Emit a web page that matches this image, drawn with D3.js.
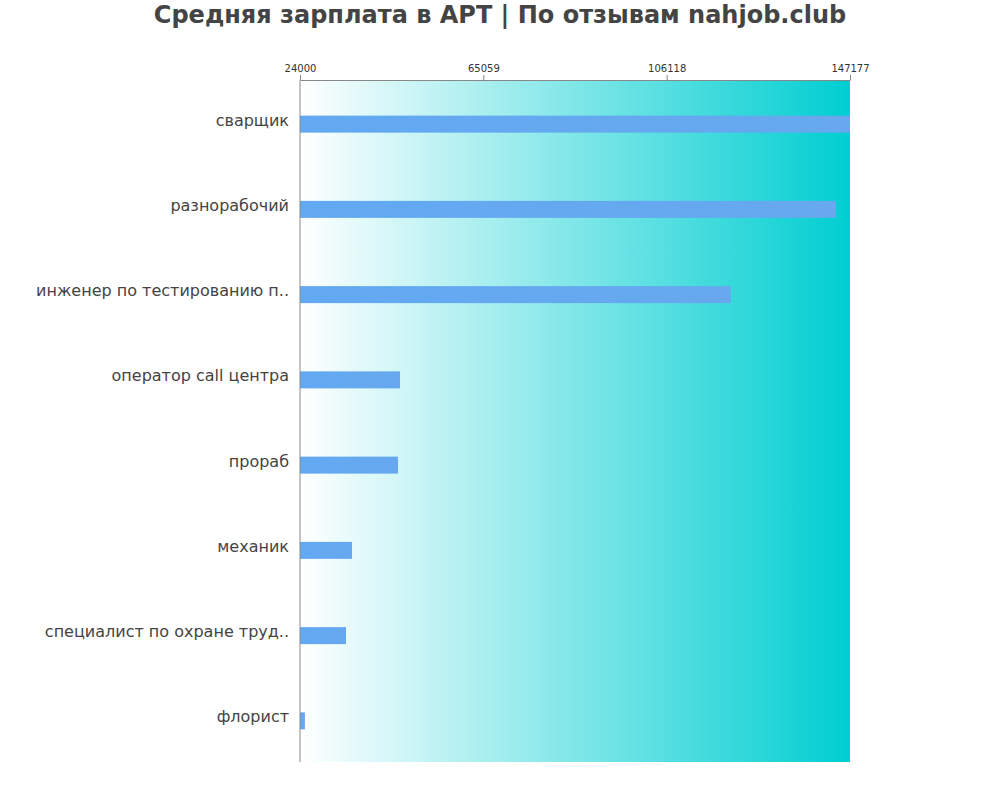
<!DOCTYPE html>
<html>
<head>
<meta charset="utf-8">
<script src="https://cdn.jsdelivr.net/npm/d3@7"></script>
<style>
  body { margin: 0; background: #fff; }
  text { font-family: "DejaVu Sans", sans-serif; }
</style>
</head>
<body>
<svg id="chart" width="1000" height="800"></svg>
<script>
// Chart data
const categories = ['сварщик', 'разнорабочий', 'инженер по тестированию п..', 'оператор call центра',
  'прораб', 'механик', 'специалист по охране труд..', 'флорист'];
const salaries = [147177, 144000, 120500, 46400, 45950, 35650, 34300, 25100];
const tickValues = [24000, 65059, 106118, 147177];

const svg = d3.select('#chart');
const margin = { left: 300, right: 150, top: 80, bottom: 38 };
const width = 1000 - margin.left - margin.right;
const height = 800 - margin.top - margin.bottom;

// Title
svg.append('text')
  .attr('x', 500).attr('y', 23)
  .attr('text-anchor', 'middle')
  .attr('font-size', 24).attr('font-weight', 'bold')
  .attr('fill', '#444')
  .text('Средняя зарплата в АРТ | По отзывам nahjob.club');

const defs = svg.append('defs');
const bg = defs.append('linearGradient').attr('id', 'bg');
bg.append('stop').attr('offset', '0%').attr('stop-color', '#ffffff');
bg.append('stop').attr('offset', '100%').attr('stop-color', '#00ced1');
const barGrad = defs.append('linearGradient').attr('id', 'barGrad');
barGrad.append('stop').attr('offset', '0%').attr('stop-color', '#62a9f2');
barGrad.append('stop').attr('offset', '100%').attr('stop-color', '#67a8ee');

const g = svg.append('g').attr('transform', `translate(${margin.left},${margin.top})`);

const x = d3.scaleLinear().domain([24000, 147177]).range([0, width]);
const y = d3.scaleBand().domain(categories).range([0, height]);

g.append('rect').attr('width', width).attr('height', height).attr('fill', 'url(#bg)');

// Bars
g.selectAll('.bar')
  .data(categories)
  .join('rect')
  .attr('class', 'bar')
  .attr('x', 0)
  .attr('y', d => y(d) + y.bandwidth() / 2 - 8.5 + 1.5)
  .attr('height', 17)
  .attr('width', (d, i) => x(salaries[i]))
  .attr('fill', 'url(#barGrad)');

// Top axis
const xAxis = g.append('g')
  .call(d3.axisTop(x).tickValues(tickValues).tickFormat(d3.format('d')).tickSize(5).tickSizeOuter(0));
xAxis.select('.domain').attr('stroke', '#888');
xAxis.selectAll('.tick line').attr('stroke', '#888');
xAxis.selectAll('.tick text').attr('font-size', 10).attr('fill', '#333')
  .attr('font-family', '"DejaVu Sans", sans-serif');

// Left axis line
g.append('line').attr('x1', 0).attr('x2', 0).attr('y1', 0).attr('y2', height).attr('stroke', '#888');

// Category labels
g.selectAll('.label')
  .data(categories)
  .join('text')
  .attr('class', 'label')
  .attr('x', -11)
  .attr('y', d => y(d) + y.bandwidth() / 2 + 3)
  .attr('text-anchor', 'end')
  .attr('font-size', 16)
  .attr('fill', '#444')
  .text(d => d);
</script>
</body>
</html>
